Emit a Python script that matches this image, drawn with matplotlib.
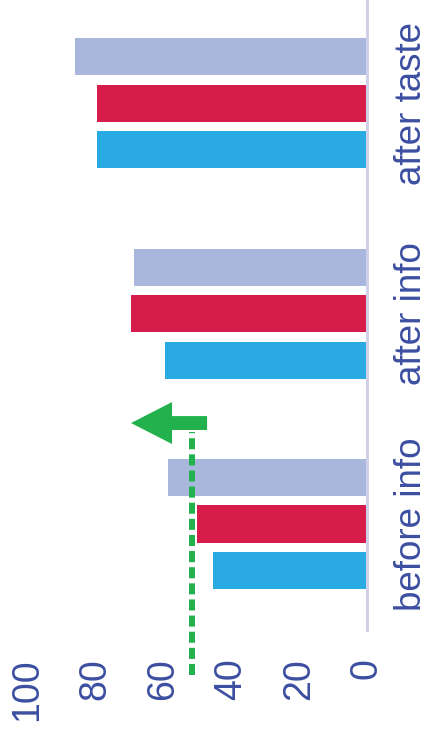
import matplotlib
matplotlib.use('Agg')
import matplotlib.pyplot as plt
from matplotlib.patches import FancyArrowPatch, ArrowStyle
import numpy as np

# ---- data ----
categories = ['before info', 'after info', 'after taste']
series_blue = [45.5, 59.5, 79.5]
series_red = [50.0, 69.5, 79.5]
series_lavender = [58.5, 68.5, 86.0]
x_ticks = [0, 20, 40, 60, 80, 100]
x_tick_labels = ['0', '20', '40', '60', '80', '100']
reference_value = 51.6
arrow_from = 47.1
arrow_to = 69.5
arrow_level = 0.48

# ---- style ----
BLUE = '#2aaae2'
RED = '#d51c4b'
LAVENDER = '#a9b7dc'
GREEN = '#22b14c'
TEXT = '#3b4ea0'
AXIS = '#d0d0ea'

plt.rcParams['font.family'] = ['Liberation Sans', 'DejaVu Sans']

fig = plt.figure(figsize=(4.28, 7.35), dpi=100)
ax = fig.add_axes([0, 0, 1, 1])
ax.set_facecolor('white')

y = np.arange(len(categories))
offset = 0.221
h = 0.176
ax.barh(y - offset, series_blue, height=h, color=BLUE, zorder=2)
ax.barh(y, series_red, height=h, color=RED, zorder=2)
ax.barh(y + offset, series_lavender, height=h, color=LAVENDER, zorder=2)

ax.set_xlim(108.1, -17.97)
ax.set_ylim(-1.003, 2.491)

# axis line at zero
ax.axvline(0, ymin=0.1429, ymax=1, color=AXIS, lw=2.2, zorder=3)

# reference dashed line
ax.axvline(reference_value, ymin=0.082, ymax=0.412, color=GREEN, lw=4.3,
           linestyle=(0, (1.85, 0.85)), zorder=4)

# arrow
arr = FancyArrowPatch((arrow_from, arrow_level), (arrow_to, arrow_level),
                      arrowstyle=ArrowStyle('Simple', head_length=29.5,
                                            head_width=30.2, tail_width=10),
                      mutation_scale=1, color=GREEN, shrinkA=0, shrinkB=0,
                      lw=0, zorder=5)
ax.add_patch(arr)

for s in ax.spines.values():
    s.set_visible(False)

ax.set_xticks(x_ticks)
ax.set_xticklabels(x_tick_labels, rotation=90)
ax.tick_params(axis='x', direction='in', length=0, pad=-55.5,
               labelsize=27, labelcolor=TEXT)

ax.yaxis.tick_right()
ax.set_yticks(y)
ax.set_yticklabels(categories, rotation=90, va='center')
ax.tick_params(axis='y', direction='in', length=0, pad=-24.8,
               labelsize=26.5, labelcolor=TEXT)

fig.savefig('out.png', dpi=100)
